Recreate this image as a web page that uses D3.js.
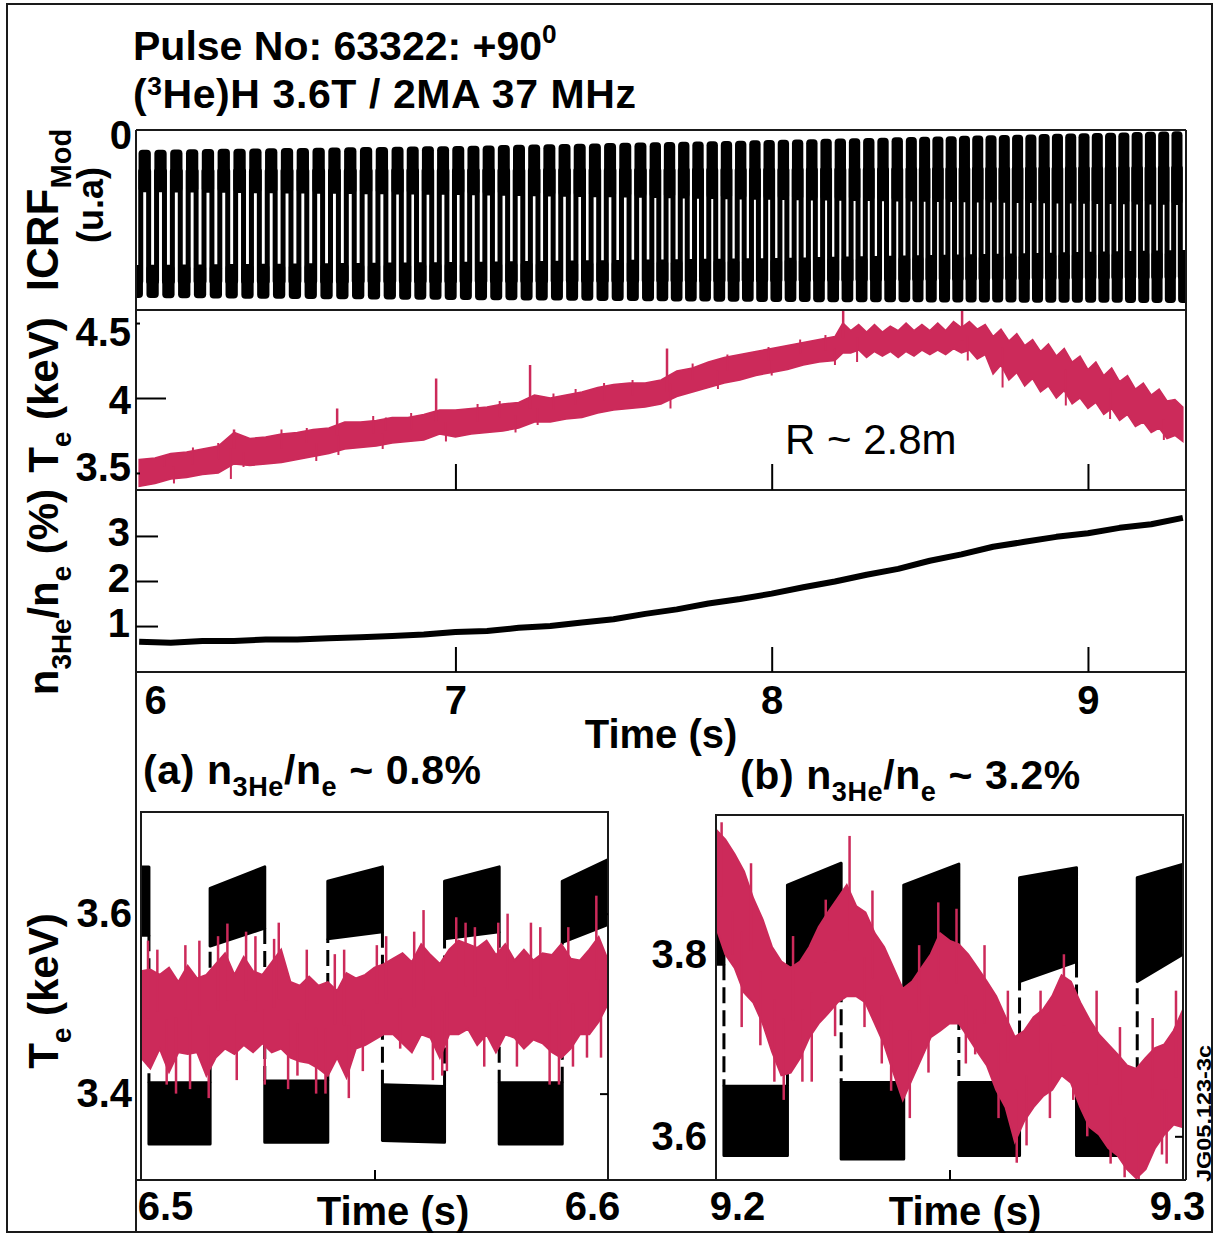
<!DOCTYPE html>
<html>
<head>
<meta charset="utf-8">
<script src="https://cdn.jsdelivr.net/npm/d3@7"></script>
<style>
  body { margin: 0; background: #fff; }
  svg { display: block; }
</style>
</head>
<body>
<svg id="chart" width="1219" height="1236"></svg>
<script>
// ---------------- data ----------------
// Central Te (R ~ 2.8 m): upper / lower edge of the noisy trace, keV
const teTime = [6.00,6.05,6.10,6.15,6.20,6.25,6.30,6.35,6.40,6.45,6.50,6.55,6.60,6.65,6.70,6.75,6.80,6.85,6.90,6.95,
  7.00,7.05,7.10,7.15,7.20,7.25,7.30,7.35,7.40,7.45,7.50,7.55,7.60,7.65,7.70,7.75,7.80,7.85,7.90,7.95,
  8.00,8.05,8.10,8.15,8.20,8.225,8.25,8.275,8.30,8.325,8.35,8.375,8.40,8.425,8.45,8.475,8.50,8.525,8.55,8.575,
  8.60,8.625,8.65,8.675,8.70,8.725,8.75,8.775,8.80,8.825,8.85,8.875,8.90,8.925,8.95,8.975,9.00,9.025,9.05,9.075,
  9.10,9.125,9.15,9.175,9.20,9.225,9.25,9.275,9.30];
const teHigh = [3.59,3.60,3.63,3.64,3.66,3.68,3.77,3.73,3.74,3.76,3.77,3.79,3.80,3.84,3.84,3.85,3.87,3.87,3.89,3.92,
  3.92,3.93,3.94,3.96,3.97,4.02,4.00,4.02,4.04,4.07,4.09,4.10,4.10,4.12,4.18,4.20,4.24,4.27,4.29,4.31,
  4.33,4.35,4.37,4.39,4.41,4.50,4.45,4.49,4.44,4.49,4.44,4.48,4.45,4.50,4.45,4.49,4.45,4.50,4.45,4.51,
  4.47,4.51,4.46,4.49,4.41,4.46,4.38,4.43,4.35,4.39,4.31,4.36,4.28,4.33,4.24,4.28,4.19,4.24,4.15,4.20,
  4.11,4.15,4.06,4.10,4.02,4.06,3.98,3.99,3.94];
const teLow = [3.41,3.43,3.46,3.47,3.49,3.50,3.56,3.55,3.56,3.57,3.59,3.61,3.63,3.66,3.67,3.68,3.70,3.71,3.72,3.76,
  3.74,3.76,3.77,3.78,3.80,3.84,3.84,3.86,3.87,3.90,3.92,3.93,3.94,3.96,4.01,4.04,4.07,4.10,4.12,4.15,
  4.17,4.19,4.22,4.24,4.25,4.30,4.30,4.32,4.27,4.31,4.28,4.31,4.27,4.31,4.28,4.32,4.29,4.32,4.29,4.33,
  4.30,4.32,4.26,4.29,4.16,4.22,4.12,4.17,4.08,4.13,4.04,4.08,4.00,4.05,3.96,4.00,3.93,3.97,3.89,3.93,
  3.85,3.89,3.81,3.84,3.77,3.80,3.73,3.75,3.71];
// sawtooth crashes (large spikes) and smaller excursions of the Te trace
const teSpikeTime = [6.300, 6.626, 6.939, 7.236, 7.669, 8.226, 8.602];
const teSpikeValue = [3.79, 3.93, 4.13, 4.22, 4.33, 4.60, 4.65];
const teBlipTime = [6.08,6.17,6.25,6.45,6.53,6.74,6.78,6.86,7.07,7.14,7.31,7.38,7.47,7.56,7.75,7.86,7.99,8.09,8.17,
  6.11,6.29,6.33,6.56,6.63,6.77,6.97,7.19,7.26,7.68,7.83,8.00,8.20,8.27,8.62,8.73,8.93,9.07,9.24];
const teBlipValue = [3.62,3.67,3.70,3.79,3.80,3.88,3.87,3.90,3.96,3.98,4.03,4.06,4.10,4.12,4.23,4.29,4.34,4.39,4.42,
  3.43,3.46,3.54,3.58,3.62,3.66,3.71,3.77,3.82,3.93,4.06,4.15,4.22,4.24,4.25,4.07,3.95,3.86,3.72];

// 3He concentration n3He/ne, %
const nTime = [6.0,6.1,6.2,6.3,6.4,6.5,6.6,6.7,6.8,6.9,7.0,7.1,7.2,7.3,7.4,7.5,7.6,7.7,7.8,7.9,
  8.0,8.1,8.2,8.3,8.4,8.5,8.6,8.7,8.8,8.9,9.0,9.1,9.2,9.3];
const nRatio = [0.65,0.63,0.67,0.67,0.70,0.70,0.73,0.75,0.78,0.81,0.87,0.89,0.96,1.00,1.08,1.15,1.27,1.37,1.50,1.60,
  1.72,1.86,1.99,2.14,2.27,2.45,2.59,2.76,2.87,2.98,3.06,3.18,3.26,3.40];

// ICRF power modulation: switch-on / switch-off times as displayed (s)
const icrfRise = [6.005,6.055,6.105,6.155,6.205,6.255,6.305,6.355,6.405,6.455,6.505,6.555,6.605,6.655,6.705,6.755,
  6.805,6.853,6.901,6.949,6.997,7.045,7.093,7.141,7.189,7.237,7.285,7.333,7.381,7.429,7.477,7.525,7.573,
  7.621,7.666,7.711,7.756,7.801,7.846,7.891,7.936,7.981,8.026,8.071,8.116,8.161,8.206,8.251,8.296,8.341,8.386,
  8.431,8.473,8.515,8.557,8.599,8.641,8.683,8.725,8.767,8.809,8.851,8.893,8.935,8.977,9.019,9.061,9.103,9.145,9.187,9.229,9.271];
const icrfFall = [6.030,6.080,6.130,6.180,6.230,6.280,6.330,6.380,6.430,6.480,6.530,6.580,6.630,6.680,6.730,6.780,
  6.829,6.877,6.925,6.973,7.021,7.069,7.117,7.165,7.213,7.261,7.309,7.357,7.405,7.453,7.501,7.549,7.597,
  7.643,7.688,7.733,7.778,7.823,7.868,7.913,7.958,8.003,8.048,8.093,8.138,8.183,8.228,8.273,8.318,8.363,8.408,
  8.452,8.494,8.536,8.578,8.620,8.662,8.704,8.746,8.788,8.830,8.872,8.914,8.956,8.998,9.040,9.082,9.124,9.166,9.208,9.250,9.292];
// noise band of the on / off levels (a.u.)
const icrfLevelTime = [5.99, 7.0, 8.0, 9.31];
const icrfHighTop  = [-0.117, -0.094, -0.059, -0.006];
const icrfHighBase = [-0.364, -0.381, -0.410, -0.440];
const icrfLowTop   = [-0.792, -0.774, -0.751, -0.704];
const icrfLowBase  = [-0.985, -0.997, -1.009, -1.015];

// (a) zoom 6.5 - 6.6 s, Te trace (keV)
const aTime = [6.500,6.502,6.504,6.506,6.508,6.510,6.512,6.514,6.516,6.518,6.520,6.522,6.524,6.526,6.528,6.530,6.532,
  6.534,6.536,6.538,6.540,6.542,6.544,6.546,6.548,6.550,6.552,6.554,6.556,6.558,6.560,6.562,6.564,6.566,6.568,
  6.570,6.572,6.574,6.576,6.578,6.580,6.582,6.584,6.586,6.588,6.590,6.592,6.594,6.596,6.598,6.600];
const aHigh = [3.536,3.538,3.532,3.540,3.524,3.542,3.528,3.532,3.544,3.556,3.532,3.552,3.536,3.532,3.546,3.560,3.524,
  3.520,3.530,3.520,3.524,3.514,3.534,3.528,3.532,3.540,3.544,3.550,3.556,3.546,3.566,3.554,3.544,3.560,3.570,
  3.566,3.562,3.570,3.554,3.566,3.548,3.560,3.548,3.556,3.554,3.566,3.550,3.548,3.560,3.574,3.548];
const aLow = [3.440,3.428,3.450,3.424,3.446,3.444,3.446,3.420,3.440,3.450,3.444,3.454,3.446,3.456,3.446,3.450,3.440,
  3.436,3.434,3.428,3.420,3.440,3.418,3.450,3.454,3.460,3.466,3.466,3.456,3.446,3.466,3.462,3.440,3.466,3.466,
  3.472,3.454,3.466,3.446,3.466,3.462,3.450,3.460,3.456,3.446,3.440,3.450,3.466,3.466,3.480,3.500];
const aSpikeTime = [6.5015,6.5035,6.5055,6.5075,6.5095,6.5105,6.5125,6.5145,6.5165,6.5185,6.5205,6.5225,6.5245,
  6.5265,6.5285,6.5295,6.5315,6.5335,6.5355,6.5375,6.5395,6.5415,6.5435,6.5445,6.5475,6.5505,6.5525,6.5555,
  6.5585,6.5605,6.5625,6.5645,6.5655,6.5675,6.5695,6.5715,6.5735,6.5765,6.5785,6.5805,6.5835,6.5855,6.5875,
  6.5895,6.5915,6.5925,6.5955,6.5975,6.5985];
const aSpikeValue = [3.570,3.560,3.410,3.400,3.565,3.405,3.570,3.395,3.575,3.589,3.415,3.580,3.575,
  3.410,3.572,3.590,3.405,3.420,3.560,3.400,3.400,3.555,3.560,3.395,3.425,3.565,3.575,3.450,
  3.580,3.604,3.415,3.420,3.425,3.596,3.590,3.585,3.430,3.590,3.600,3.430,3.590,3.585,3.410,
  3.410,3.585,3.430,3.440,3.620,3.440];
// (a) modulation trace: plateaus with their band at start and end
const aModStart  = [6.5000,6.5017,6.5148,6.5265,6.5400,6.5517,6.5650,6.5767,6.5902];
const aModEnd    = [6.5017,6.5148,6.5265,6.5400,6.5517,6.5650,6.5767,6.5902,6.6000];
const aModOn     = [1,0,1,0,1,0,1,0,1];
const aModLoStart = [3.576,3.344,3.564,3.346,3.572,3.348,3.572,3.344,3.568];
const aModHiStart = [3.652,3.412,3.628,3.414,3.636,3.410,3.636,3.412,3.636];
const aModLoEnd   = [3.576,3.344,3.584,3.346,3.580,3.346,3.580,3.344,3.588];
const aModHiEnd   = [3.652,3.412,3.652,3.414,3.652,3.408,3.652,3.412,3.660];

// (b) zoom 9.2 - 9.3 s, Te trace (keV)
const bTime = [9.200,9.202,9.204,9.206,9.208,9.210,9.212,9.214,9.216,9.218,9.220,9.222,9.224,9.226,9.228,9.230,9.232,
  9.234,9.236,9.238,9.240,9.242,9.244,9.246,9.248,9.250,9.252,9.254,9.256,9.258,9.260,9.262,9.264,9.266,9.268,
  9.270,9.272,9.274,9.276,9.278,9.280,9.282,9.284,9.286,9.288,9.290,9.292,9.294,9.296,9.298,9.300];
const bHigh = [3.937,3.926,3.910,3.891,3.861,3.838,3.808,3.792,3.785,3.792,3.808,3.830,3.846,3.861,3.876,3.853,3.846,
  3.823,3.808,3.785,3.762,3.770,3.785,3.800,3.823,3.815,3.811,3.800,3.785,3.770,3.754,3.731,3.709,3.716,3.731,
  3.739,3.754,3.777,3.770,3.747,3.728,3.712,3.701,3.690,3.678,3.674,3.686,3.697,3.701,3.716,3.739];
const bLow = [3.830,3.800,3.785,3.758,3.747,3.724,3.693,3.667,3.670,3.686,3.709,3.724,3.735,3.747,3.754,3.754,3.747,
  3.724,3.701,3.670,3.640,3.663,3.686,3.709,3.716,3.724,3.724,3.709,3.693,3.678,3.651,3.632,3.594,3.617,3.632,
  3.644,3.651,3.667,3.659,3.632,3.610,3.602,3.587,3.579,3.564,3.554,3.564,3.587,3.602,3.613,3.610];
const bSpikeTime = [9.2012,9.2035,9.2055,9.2075,9.2095,9.2125,9.2145,9.2165,9.2185,9.2205,9.2235,9.2255,9.2286,
  9.2318,9.2335,9.2355,9.2375,9.2415,9.2435,9.2455,9.2476,9.2515,9.2535,9.2555,9.2575,9.2605,9.2625,9.2644,
  9.2665,9.2695,9.2715,9.2745,9.2765,9.2795,9.2815,9.2845,9.2865,9.2875,9.2905,9.2935,9.2955,9.2965,9.2985];
const bSpikeValue = [3.945,3.800,3.720,3.900,3.700,3.660,3.640,3.820,3.660,3.660,3.860,3.710,3.930,
  3.720,3.870,3.680,3.650,3.620,3.810,3.670,3.857,3.850,3.680,3.690,3.810,3.620,3.760,3.571,
  3.590,3.760,3.620,3.800,3.640,3.600,3.760,3.570,3.720,3.555,3.552,3.730,3.580,3.570,3.760];
const bModStart  = [9.2000,9.2017,9.2153,9.2268,9.2402,9.2520,9.2650,9.2772,9.2902];
const bModEnd    = [9.2017,9.2153,9.2268,9.2402,9.2520,9.2650,9.2772,9.2902,9.3000];
const bModOn     = [1,0,1,0,1,0,1,0,1];
const bModLoStart = [3.789,3.579,3.770,3.575,3.762,3.579,3.770,3.579,3.770];
const bModHiStart = [3.861,3.655,3.876,3.659,3.876,3.659,3.884,3.644,3.884];
const bModLoEnd   = [3.789,3.579,3.790,3.575,3.785,3.579,3.792,3.579,3.800];
const bModHiEnd   = [3.861,3.655,3.900,3.659,3.899,3.659,3.895,3.644,3.899];

// axis ticks
const mainTimeTicks = [6, 7, 8, 9];
const teTicks = [3.5, 4, 4.5];
const nTicks = [1, 2, 3];
const icrfTicks = [0];
const aTimeTicks = [6.5, 6.55, 6.6];
const bTimeTicks = [9.2, 9.25, 9.3];
const aTeTicks = [3.4, 3.6];
const bTeTicks = [3.6, 3.8];

// ---------------- drawing ----------------
const FONT = '"Liberation Sans", Arial, Helvetica, sans-serif';
const RED = "#cc2a5a";
const INK = "#000";
const svg = d3.select("#chart");

// scales
const xMain = d3.scaleLinear().domain([5.99, 9.31]).range([136, 1186]);
const yIcrf = d3.scaleLinear().domain([-1.05, 0]).range([309, 130]);
const yTe = d3.scaleLinear().domain([3.393, 4.587]).range([489, 310]);
const yN = d3.scaleLinear().domain([-0.02, 4.02]).range([672, 490]);
const xA = d3.scaleLinear().domain([6.5, 6.6]).range([141, 608]);
const yA = d3.scaleLinear().domain([3.304, 3.713]).range([1180, 812]);
const xB = d3.scaleLinear().domain([9.2, 9.3]).range([716, 1183]);
const yB = d3.scaleLinear().domain([3.552, 3.953]).range([1180, 815]);

const defs = svg.append("defs");
function clip(id, x0, y0, x1, y1) {
  defs.append("clipPath").attr("id", id).append("rect")
    .attr("x", x0).attr("y", y0).attr("width", x1 - x0).attr("height", y1 - y0);
  return `url(#${id})`;
}

// text with sub/superscripts
function rich(sel, parts, size) {
  let shift = 0;
  parts.forEach(p => {
    const ts = sel.append("tspan").text(p.t);
    let target = 0, fs = size;
    if (p.sub) { target = size * 0.30; fs = size * 0.66; }
    if (p.sup) { target = -size * (p.lift || 0.42); fs = size * 0.64; }
    ts.attr("font-size", fs);
    if (target !== shift) { ts.attr("dy", target - shift); shift = target; }
  });
  return sel;
}
function label(x, y, parts, size, opts = {}) {
  const t = svg.append("text")
    .attr("x", x).attr("y", y)
    .attr("font-family", FONT)
    .attr("font-weight", opts.weight || "bold")
    .attr("font-size", size)
    .attr("fill", INK)
    .attr("text-anchor", opts.anchor || "start");
  if (opts.spacing) t.attr("letter-spacing", opts.spacing);
  if (opts.rotate) t.attr("transform", `rotate(-90 ${x} ${y})`);
  return rich(t, parts, size);
}

function styleAxis(g, size) {
  g.select(".domain").remove();
  g.attr("font-size", null).attr("font-family", null);
  g.selectAll("text").attr("font-size", size).attr("font-weight", "bold")
    .attr("fill", INK).attr("font-family", FONT);
  g.selectAll("line").attr("stroke", INK).attr("stroke-width", 2);
}

// ---- ICRF modulation panel ----
const icrfG = svg.append("g").attr("clip-path", clip("cIcrf", 137, 131, 1185, 309));
const lvl = arr => d3.scaleLinear().domain(icrfLevelTime).range(arr);
const hiTop = lvl(icrfHighTop), hiBase = lvl(icrfHighBase), loTop = lvl(icrfLowTop), loBase = lvl(icrfLowBase);
const plateaus = [{ on: 0, t0: xMain.domain()[0], t1: icrfRise[0] }];
icrfRise.forEach((r, i) => {
  plateaus.push({ on: 1, t0: r, t1: icrfFall[i] });
  plateaus.push({ on: 0, t0: icrfFall[i], t1: i + 1 < icrfRise.length ? icrfRise[i + 1] : xMain.domain()[1] });
});
plateaus.forEach(p => {
  const tm = (p.t0 + p.t1) / 2;
  p.top = p.on ? hiTop(tm) : loTop(tm);
  p.base = p.on ? hiBase(tm) : loBase(tm);
  p.mid = (p.top + p.base) / 2;
});
icrfG.selectAll("rect.blob").data(plateaus).join("rect")
  .attr("class", "blob")
  .attr("x", d => xMain(d.t0) - 2.2)
  .attr("width", d => xMain(d.t1) - xMain(d.t0) + 4.4)
  .attr("y", d => yIcrf(d.top))
  .attr("height", d => yIcrf(d.base) - yIcrf(d.top))
  .attr("rx", 4)
  .attr("fill", INK);
const stepPts = [];
plateaus.forEach(p => { stepPts.push([p.t0, p.mid]); stepPts.push([p.t1, p.mid]); });
icrfG.append("path")
  .attr("d", d3.line().x(d => xMain(d[0])).y(d => yIcrf(d[1]))(stepPts))
  .attr("fill", "none").attr("stroke", INK).attr("stroke-width", 5).attr("stroke-linejoin", "round");

// ---- Te panel ----
const teG = svg.append("g").attr("clip-path", clip("cTe", 137, 311, 1185, 489));
const teRows = teTime.map((t, i) => ({ t, hi: teHigh[i], lo: teLow[i] }));
teG.append("path")
  .attr("d", d3.area().x(d => xMain(d.t)).y0(d => yTe(d.lo)).y1(d => yTe(d.hi))(teRows))
  .attr("fill", RED).attr("stroke", RED).attr("stroke-width", 1.5);
const nearestTe = t => teRows[d3.bisector(d => d.t).center(teRows, t)];
const teMid = t => (nearestTe(t).hi + nearestTe(t).lo) / 2;
teG.selectAll("line.blip").data(teBlipTime).join("line")
  .attr("class", "blip")
  .attr("x1", t => xMain(t)).attr("x2", t => xMain(t))
  .attr("y1", t => yTe(teMid(t)))
  .attr("y2", (t, i) => yTe(teBlipValue[i]))
  .attr("stroke", RED).attr("stroke-width", 2);
teG.selectAll("line.spike").data(teSpikeTime).join("line")
  .attr("class", "spike")
  .attr("x1", t => xMain(t)).attr("x2", t => xMain(t))
  .attr("y1", t => yTe(teMid(t)))
  .attr("y2", (t, i) => yTe(teSpikeValue[i]))
  .attr("stroke", RED).attr("stroke-width", 2.5);

// ---- n3He/ne panel ----
const nG = svg.append("g").attr("clip-path", clip("cN", 137, 491, 1185, 671));
nG.append("path")
  .attr("d", d3.line().x((d, i) => xMain(nTime[i])).y(d => yN(d))(nRatio))
  .attr("fill", "none").attr("stroke", INK).attr("stroke-width", 6).attr("stroke-linejoin", "round");

// ---- zoomed insets ----
function inset(id, xs, ys, time, hi, lo, spT, spV, mod) {
  const [x0, x1] = xs.range();
  const [y1, y0] = ys.range();
  const g = svg.append("g").attr("clip-path", clip(id, x0 + 1, y0 + 1, x1 - 1, y1 - 1));
  // modulation reference (black)
  const segs = mod.start.map((s, i) => ({
    t0: s, t1: mod.end[i], on: mod.on[i],
    lo0: mod.loS[i], hi0: mod.hiS[i], lo1: mod.loE[i], hi1: mod.hiE[i]
  }));
  g.selectAll("path.seg").data(segs).join("path")
    .attr("class", "seg")
    .attr("d", d => d3.area().x(p => xs(p[0])).y0(p => ys(p[1])).y1(p => ys(p[2]))(
      [[d.t0, d.lo0, d.hi0], [d.t1, d.lo1, d.hi1]]))
    .attr("fill", INK).attr("stroke", INK).attr("stroke-width", 3).attr("stroke-linejoin", "round");
  const trans = segs.slice(0, -1).map((d, i) => {
    const n = segs[i + 1];
    return { t: d.t1, from: d.on ? d.lo1 : d.hi1, to: n.on ? n.lo0 : n.hi0 };
  });
  g.selectAll("line.trans").data(trans).join("line")
    .attr("class", "trans")
    .attr("x1", d => xs(d.t)).attr("x2", d => xs(d.t))
    .attr("y1", d => ys(d.from)).attr("y2", d => ys(d.to))
    .attr("stroke", INK).attr("stroke-width", 3).attr("stroke-dasharray", "16,7");
  // Te trace (red)
  const rows = time.map((t, i) => ({ t, hi: hi[i], lo: lo[i] }));
  g.append("path")
    .attr("d", d3.area().x(d => xs(d.t)).y0(d => ys(d.lo)).y1(d => ys(d.hi))(rows))
    .attr("fill", RED).attr("stroke", RED).attr("stroke-width", 2);
  const near = t => rows[d3.bisector(d => d.t).center(rows, t)];
  g.selectAll("line.spike").data(spT).join("line")
    .attr("class", "spike")
    .attr("x1", t => xs(t)).attr("x2", t => xs(t))
    .attr("y1", t => ys((near(t).hi + near(t).lo) / 2))
    .attr("y2", (t, i) => ys(spV[i]))
    .attr("stroke", RED).attr("stroke-width", 2.5);
}
inset("cA", xA, yA, aTime, aHigh, aLow, aSpikeTime, aSpikeValue,
  { start: aModStart, end: aModEnd, on: aModOn, loS: aModLoStart, hiS: aModHiStart, loE: aModLoEnd, hiE: aModHiEnd });
inset("cB", xB, yB, bTime, bHigh, bLow, bSpikeTime, bSpikeValue,
  { start: bModStart, end: bModEnd, on: bModOn, loS: bModLoStart, hiS: bModHiStart, loE: bModLoEnd, hiE: bModHiEnd });

// ---- frames ----
const frame = svg.append("g").attr("fill", "none").attr("stroke", "#1a1a1a").attr("stroke-width", 2);
frame.append("rect").attr("x", 7).attr("y", 4).attr("width", 1205).attr("height", 1228);
[130, 310, 490, 672, 1180].forEach(y =>
  frame.append("line").attr("x1", 136).attr("x2", 1186).attr("y1", y).attr("y2", y));
frame.append("line").attr("x1", 136).attr("x2", 136).attr("y1", 130).attr("y2", 1232);
frame.append("line").attr("x1", 1186).attr("x2", 1186).attr("y1", 130).attr("y2", 1180);
frame.append("rect").attr("x", xA.range()[0]).attr("y", yA.range()[1])
  .attr("width", xA.range()[1] - xA.range()[0]).attr("height", yA.range()[0] - yA.range()[1]);
frame.append("rect").attr("x", xB.range()[0]).attr("y", yB.range()[1])
  .attr("width", xB.range()[1] - xB.range()[0]).attr("height", yB.range()[0] - yB.range()[1]);

// ---- axes ----
const TICK_FS = 40;
// ICRF "0"
const gI = svg.append("g").attr("transform", "translate(136,0)")
  .call(d3.axisLeft(yIcrf).tickValues(icrfTicks).tickSize(0).tickPadding(4).tickFormat(d3.format("d")));
styleAxis(gI, TICK_FS);
gI.selectAll("text").attr("dy", "0.45em");

// Te
const gT = svg.append("g").attr("transform", "translate(136,0)")
  .call(d3.axisLeft(yTe).tickValues(teTicks).tickSizeInner(-30).tickSizeOuter(0).tickPadding(5).tickFormat(d => d));
styleAxis(gT, TICK_FS);
gT.selectAll(".tick line").attr("x2", d => d === 4 ? 30 : 4);
gT.selectAll(".tick text").attr("dy", d => d === 4.5 ? "0.55em" : d === 3.5 ? "0.2em" : "0.38em");
const gTb = svg.append("g").attr("transform", "translate(0,490)")
  .call(d3.axisBottom(xMain).tickValues([7, 8, 9]).tickSizeInner(-26).tickSizeOuter(0).tickFormat(""));
styleAxis(gTb, TICK_FS);

// n3He/ne
const gN = svg.append("g").attr("transform", "translate(136,0)")
  .call(d3.axisLeft(yN).tickValues(nTicks).tickSizeInner(-22).tickSizeOuter(0).tickPadding(6).tickFormat(d3.format("d")));
styleAxis(gN, TICK_FS);
gN.selectAll(".tick text").attr("dy", "0.25em");

// main time axis
const gX = svg.append("g").attr("transform", "translate(0,672)")
  .call(d3.axisBottom(xMain).tickValues(mainTimeTicks).tickSizeInner(-25).tickSizeOuter(0).tickPadding(14).tickFormat(d3.format("d")));
styleAxis(gX, TICK_FS);
gX.selectAll(".tick line").attr("opacity", d => d === 6 ? 0 : 1);
gX.selectAll(".tick text").attr("dx", d => d === 6 ? 16 : 0);

// inset axes
function insetAxes(xs, ys, xt, yt, shiftFirst, shiftLast) {
  const [x0, x1] = xs.range();
  const gx = svg.append("g").attr("transform", `translate(0,${ys.range()[0]})`)
    .call(d3.axisBottom(xs).tickValues(xt).tickSizeInner(-10).tickSizeOuter(0).tickPadding(12)
      .tickFormat(d => (d === xt[1] ? "" : d3.format(".1f")(d))));
  styleAxis(gx, TICK_FS);
  gx.selectAll(".tick line").attr("opacity", (d, i) => i === 1 ? 1 : 0);
  gx.selectAll(".tick text").attr("dx", (d, i) => i === 0 ? shiftFirst : i === 2 ? shiftLast : 0);
  const gy = svg.append("g").attr("transform", `translate(${x0},0)`)
    .call(d3.axisLeft(ys).tickValues(yt).tickSizeInner(0).tickSizeOuter(0).tickPadding(9).tickFormat(d3.format(".1f")));
  styleAxis(gy, TICK_FS);
  const gyr = svg.append("g").attr("transform", `translate(${x1},0)`)
    .call(d3.axisRight(ys).tickValues(yt).tickSizeInner(-8).tickSizeOuter(0).tickFormat(""));
  styleAxis(gyr, TICK_FS);
}
insetAxes(xA, yA, aTimeTicks, aTeTicks, 24, -16);
insetAxes(xB, yB, bTimeTicks, bTeTicks, 21, -6);

// ---- titles and axis labels ----
label(133, 60, [{ t: "Pulse No: 63322: +90" }, { t: "0", sup: true }], 41);
label(133, 108, [{ t: "(" }, { t: "3", sup: true, lift: 0.32 }, { t: "He)H 3.6T / 2MA 37 MHz" }], 41, { spacing: 0.6 });
label(785, 454, [{ t: "R ~ 2.8m" }], 42, { weight: "normal" });

label(58, 210, [{ t: "ICRF" }, { t: "Mod", sub: true }], 44, { rotate: true, anchor: "middle" });
label(103, 205, [{ t: "(u.a)" }], 36, { rotate: true, anchor: "middle" });
label(58, 395, [{ t: "T" }, { t: "e", sub: true }, { t: " (keV)" }], 42, { rotate: true, anchor: "middle" });
label(58, 592, [{ t: "n" }, { t: "3He", sub: true }, { t: "/n" }, { t: "e", sub: true }, { t: " (%)" }], 42, { rotate: true, anchor: "middle" });
label(58, 991, [{ t: "T" }, { t: "e", sub: true }, { t: " (keV)" }], 42, { rotate: true, anchor: "middle" });

label(661, 748, [{ t: "Time (s)" }], 40, { anchor: "middle" });
label(143, 784, [{ t: "(a) n" }, { t: "3He", sub: true }, { t: "/n" }, { t: "e", sub: true }, { t: " ~ 0.8%" }], 41, { spacing: 0.6 });
label(740, 789, [{ t: "(b) n" }, { t: "3He", sub: true }, { t: "/n" }, { t: "e", sub: true }, { t: " ~ 3.2%" }], 41, { spacing: 0.6 });
label(393, 1225, [{ t: "Time (s)" }], 40, { anchor: "middle" });
label(965, 1225, [{ t: "Time (s)" }], 40, { anchor: "middle" });

svg.append("text")
  .attr("x", 1211).attr("y", 1182)
  .attr("transform", "rotate(-90 1211 1182)")
  .attr("font-family", FONT).attr("font-weight", "bold").attr("font-size", 20)
  .attr("textLength", 137).attr("lengthAdjust", "spacingAndGlyphs")
  .text("JG05.123-3c");
</script>
</body>
</html>
